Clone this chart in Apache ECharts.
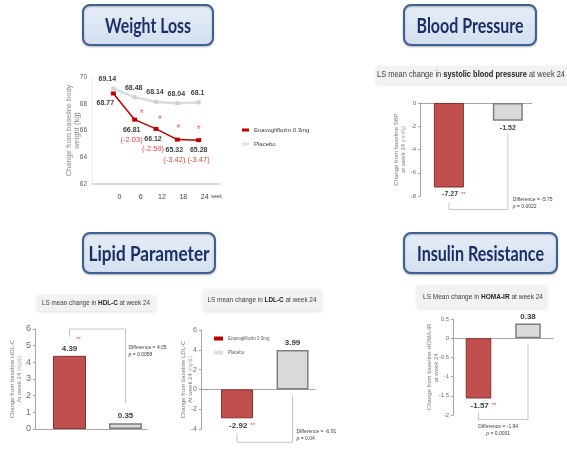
<!DOCTYPE html>
<html>
<head>
<meta charset="utf-8">
<script src="https://cdn.jsdelivr.net/npm/echarts@6/dist/echarts.min.js"></script>
<style>
  html, body { margin: 0; padding: 0; background: #ffffff; }
  #c { width: 567px; height: 473px; }
</style>
</head>
<body>
<div id="c"></div>
<script>
// ---------- data ----------
const groupNames = ['Enavogliflozin 0.3mg', 'Placebo'];

const weeks = [0, 6, 12, 18, 24];
const enavoWeight = [68.77, 66.81, 66.12, 65.32, 65.28];
const enavoWeightChange = [null, -2.03, -2.59, -3.42, -3.47];
const placeboWeight = [69.14, 68.48, 68.14, 68.04, 68.1];
const weightStars = ['', '*', '*', '*', '*'];

const sbpChange = [-7.27, -1.52];
const sbpStats = ['-5.75', '0.0022'];
const hdlChange = [4.39, 0.35];
const hdlStats = ['4.05', '0.0058'];
const ldlChange = [-2.92, 3.99];
const ldlStats = ['-6.91', '0.04'];
const homaChange = [-1.57, 0.38];
const homaStats = ['-1.94', '0.0001'];

const panelTitles = ['Weight Loss', 'Blood Pressure', 'Lipid Parameter', 'Insulin Resistance'];
const subTitles = [
  ['LS mean change in ', 'systolic blood pressure', ' at week 24'],
  ['LS mean change in ', 'HDL-C', ' at week 24'],
  ['LS mean change in ', 'LDL-C', ' at week 24'],
  ['LS Mean change in ', 'HOMA-IR', ' at week 24']
];

// ---------- styles ----------
const NARROW = '"Liberation Sans Narrow", "Liberation Sans", Arial, sans-serif';
const TITLE_FONT = 'Lato, "Open Sans", sans-serif';
const RED = '#c0504d', RED_EDGE = '#8a2f2c';
const GREY = '#d9d9d9', GREY_EDGE = '#7f7f7f';
const LINE_RED = '#c00000';
const STAR = '#ee3b3b';
const TXT = '#404040';
const BRACKET = '#c6c6c6';

const chart = echarts.init(document.getElementById('c'), null, { renderer: 'canvas', width: 567, height: 473 });

// bar panels: SBP, HDL-C, LDL-C, HOMA-IR
const barPanels = [
  { values: sbpChange, grid: { left: 420, top: 103, width: 112, height: 93 },
    xr: [-0.49, 1.41], yr: [-8, 0, 2], barWidth: 30, axisFont: 6, labelFont: 7,
    yName: ['Change from baseline SBP', 'at week 24', '(mmHg)'], nameGap: 13 },
  { values: hdlChange, grid: { left: 35, top: 329, width: 112, height: 100 },
    xr: [-0.616, 1.384], yr: [0, 6, 1], barWidth: 33, axisFont: 9, labelFont: 8,
    yName: ['Change from baseline HDL-C', 'At week 24', '(mg/dL)'], nameGap: 12 },
  { values: ldlChange, grid: { left: 201, top: 330, width: 114, height: 99 },
    xr: [-0.65, 1.405], yr: [-4, 6, 2], barWidth: 32, axisFont: 7, labelFont: 8,
    yName: ['Change from baseline LDL-C', 'At week 24', '(mg/dL)'], nameGap: 7 },
  { values: homaChange, grid: { left: 453, top: 319, width: 100, height: 96 },
    xr: [-0.515, 1.505], yr: [-2, 0.5, 0.5], barWidth: 25.5, axisFont: 6, labelFont: 8,
    yName: ['Change from baseline HOMA-IR', 'at week 24', ''], nameGap: 13 }
];

const grids = [{ left: 92, top: 77, width: 128, height: 107 }];
const xAxes = [{
  gridIndex: 0, type: 'value', min: -6, max: 30, interval: 6,
  axisLine: { show: true, onZero: false, lineStyle: { color: '#dadada', width: 2 } },
  axisTick: { show: false }, splitLine: { show: false },
  axisLabel: {
    fontSize: 7, color: TXT, fontFamily: NARROW, margin: 10, padding: [0, 0, 0, 12],
    showMinLabel: true, showMaxLabel: true,
    formatter: v => v === 30 ? '{w|week}' : (v < 0 ? '' : String(v)),
    rich: { w: { fontSize: 4.5, color: TXT, fontFamily: NARROW, padding: [0, 19, 0, 0] } }
  }
}];
const yAxes = [{
  gridIndex: 0, type: 'value', min: 62, max: 70, interval: 2,
  axisLine: { show: true, onZero: false, lineStyle: { color: '#eeeeee', width: 1 } },
  axisTick: { show: false }, splitLine: { show: false },
  axisLabel: { fontSize: 6.5, color: '#595959', fontFamily: NARROW, margin: 5 },
  name: 'Change from baseline body\nweight (kg)', nameLocation: 'middle', nameGap: 11.5,
  nameMoveOverlap: false,
  nameTextStyle: { fontSize: 7.5, color: '#8c8c8c', fontFamily: NARROW, lineHeight: 8 }
}];

const series = [
  {
    type: 'line', name: groupNames[1], xAxisIndex: 0, yAxisIndex: 0,
    data: weeks.map((w, i) => ({ value: [w, placeboWeight[i]], label: { offset: [i === 0 ? -6 : -1, 0] } })),
    lineStyle: { color: '#dcdcdc', width: 2.5 }, itemStyle: { color: '#d0d0d0' },
    symbol: 'rect', symbolSize: 4, z: 2,
    label: { show: true, position: 'top', distance: 4, fontSize: 7, fontWeight: 'bold', color: TXT,
             fontFamily: NARROW, formatter: p => String(p.value[1]) }
  },
  {
    type: 'line', name: groupNames[0], xAxisIndex: 0, yAxisIndex: 0,
    data: weeks.map((w, i) => ({ value: [w, enavoWeight[i]], label: { offset: [i === 0 ? -8 : (i === 4 ? 0 : -3), 0] } })),
    lineStyle: { color: LINE_RED, width: 1.5 }, itemStyle: { color: LINE_RED },
    symbol: 'rect', symbolSize: [5, 4], z: 3,
    label: {
      show: true, position: 'bottom', distance: 3,
      formatter: p => {
        const i = p.dataIndex;
        const v = '{v|' + enavoWeight[i].toFixed(2) + '}';
        return enavoWeightChange[i] === null ? v : v + '\n{d|(' + enavoWeightChange[i].toFixed(2) + ')}';
      },
      rich: {
        v: { fontSize: 7, fontWeight: 'bold', color: TXT, fontFamily: NARROW, lineHeight: 10 },
        d: { fontSize: 7.5, color: STAR, fontFamily: NARROW, lineHeight: 10 }
      }
    }
  },
  {
    type: 'scatter', xAxisIndex: 0, yAxisIndex: 0, silent: true, symbolSize: 1,
    itemStyle: { color: 'rgba(0,0,0,0)' },
    data: weeks.map((w, i) => ({ value: [w, enavoWeight[i]],
      label: { offset: [[0, 7, 4, 1, 0][i], [0, -5, -9, -10, -10][i]] } })),
    label: { show: true, position: 'inside', fontSize: 10, color: STAR, fontFamily: NARROW,
             formatter: p => weightStars[p.dataIndex] }
  }
];

barPanels.forEach((bp, k) => {
  const gi = k + 1;
  grids.push(bp.grid);
  xAxes.push({
    gridIndex: gi, type: 'value', min: bp.xr[0], max: bp.xr[1],
    axisLine: { show: true, onZero: true, lineStyle: { color: '#a6a6a6', width: 1 } },
    axisTick: { show: false }, axisLabel: { show: false }, splitLine: { show: false }
  });
  yAxes.push({
    gridIndex: gi, type: 'value', min: bp.yr[0], max: bp.yr[1], interval: bp.yr[2],
    axisLine: { show: true, onZero: false, lineStyle: { color: '#a6a6a6', width: 1 } },
    axisTick: { show: true, length: 2, lineStyle: { color: '#a6a6a6' } },
    splitLine: { show: false },
    axisLabel: { fontSize: bp.axisFont, color: '#6f6f6f', fontFamily: NARROW, margin: 4 },
    name: '{a|' + bp.yName[0] + '}\n{a|' + bp.yName[1] + ' }{u|' + bp.yName[2] + '}',
    nameLocation: 'middle', nameGap: bp.nameGap, nameMoveOverlap: false,
    nameTextStyle: {
      rich: {
        a: { fontSize: 6, color: '#7a7a7a', fontFamily: NARROW, lineHeight: 7 },
        u: { fontSize: 4.5, color: '#b0b0b0', fontFamily: NARROW, lineHeight: 7 }
      }
    }
  });
  series.push({
    type: 'bar', xAxisIndex: gi, yAxisIndex: gi, barWidth: bp.barWidth,
    data: bp.values.map((v, i) => {
      const neg = v < 0;
      let fmt = '{v|' + v.toFixed(2) + '}', offset = [0, 0];
      if (i === 0) {
        if (neg) { fmt = '{v|' + v.toFixed(2) + '}{s|**}'; offset = [5, 0]; }
        else { fmt = '{t|**}\n{v|' + v.toFixed(2) + '}'; }
      }
      return {
        value: [i, v],
        itemStyle: i === 0
          ? { color: RED, borderColor: RED_EDGE, borderWidth: 1 }
          : { color: GREY, borderColor: GREY_EDGE, borderWidth: 1.5 },
        label: { show: true, position: neg ? 'bottom' : 'top', distance: 2, offset: offset, formatter: fmt }
      };
    }),
    label: {
      rich: {
        v: { fontSize: bp.labelFont, fontWeight: 'bold', color: TXT, fontFamily: NARROW, lineHeight: 10 },
        s: { fontSize: 6, color: STAR, fontFamily: NARROW, lineHeight: 10, padding: [0, 0, 0, 3] },
        t: { fontSize: 6, color: STAR, fontFamily: NARROW, lineHeight: 8, padding: [0, 0, 0, 18] }
      }
    }
  });
});

chart.setOption({
  backgroundColor: '#ffffff',
  animation: false,
  grid: grids,
  xAxis: xAxes,
  yAxis: yAxes,
  legend: [
    {
      left: 237, top: 122, orient: 'vertical', itemWidth: 7, itemHeight: 3, itemGap: 8,
      textStyle: { fontSize: 6, color: TXT, fontFamily: NARROW },
      selectedMode: false,
      data: [
        { name: groupNames[0], icon: 'rect', itemStyle: { color: LINE_RED } },
        { name: groupNames[1], icon: 'rect', itemStyle: { color: '#e0e0e0' } }
      ]
    },
    {
      left: 209, top: 331, orient: 'vertical', itemWidth: 9, itemHeight: 4, itemGap: 9,
      textStyle: { fontSize: 4.5, color: '#595959', fontFamily: NARROW },
      selectedMode: false,
      data: [
        { name: groupNames[0], icon: 'rect', itemStyle: { color: LINE_RED } },
        { name: groupNames[1], icon: 'rect', itemStyle: { color: '#e0e0e0' } }
      ]
    }
  ],
  series: series
});

// ---------- decorations: title boxes, subtitle boxes, brackets ----------
const measureCtx = document.createElement('canvas').getContext('2d');
function textWidth(str, font) { measureCtx.font = font; return measureCtx.measureText(str).width; }

function titleBox(x, y, w, h, text, targetW) {
  const font = 'bold 21px ' + TITLE_FONT;
  const sx = targetW / textWidth(text, font);
  return {
    type: 'group', children: [
      { type: 'rect', shape: { x: x, y: y, width: w, height: h, r: 7 },
        style: { fill: new echarts.graphic.LinearGradient(0, 0, 0, 1, [
          { offset: 0, color: '#e6edf7' }, { offset: 1, color: '#d3dfef' }]),
          stroke: '#3d6193', lineWidth: 2, shadowBlur: 2, shadowColor: 'rgba(0,0,0,0.25)', shadowOffsetY: 1 } },
      { type: 'text', x: x + w / 2, y: y + h / 2 + 1, scaleX: sx,
        style: { text: text, font: font, fill: '#1c2f66', align: 'center', verticalAlign: 'middle' } }
    ]
  };
}

function subBox(x, y, w, h, parts, size, targetW, cx) {
  const f1 = size + 'px ' + NARROW, f2 = 'bold ' + size + 'px ' + NARROW;
  const natural = textWidth(parts[0], f1) + textWidth(parts[1], f2) + textWidth(parts[2], f1);
  const sx = targetW / natural;
  return {
    type: 'group', children: [
      { type: 'rect', shape: { x: x, y: y, width: w, height: h, r: 3 },
        style: { fill: '#f2f2f2', shadowBlur: 3, shadowColor: 'rgba(0,0,0,0.12)', shadowOffsetY: 1 } },
      { type: 'text', x: cx, y: y + h / 2, scaleX: sx,
        style: {
          text: '{n|' + parts[0] + '}{b|' + parts[1] + '}{n|' + parts[2] + '}',
          align: 'center', verticalAlign: 'middle',
          rich: {
            n: { fontSize: size, fontFamily: NARROW, fill: '#404040' },
            b: { fontSize: size, fontFamily: NARROW, fontWeight: 'bold', fill: '#262626' }
          }
        } }
    ]
  };
}

function statText(x, y, stats, align) {
  return {
    type: 'text', x: x, y: y,
    style: {
      text: '{n|Difference = ' + stats[0] + '}\n{i|p}{n| = ' + stats[1] + '}',
      align: align, verticalAlign: 'top',
      rich: {
        n: { fontSize: 5, fontFamily: NARROW, fill: '#404040', lineHeight: 7 },
        i: { fontSize: 5, fontFamily: NARROW, fontStyle: 'italic', fill: '#404040', lineHeight: 7 }
      }
    }
  };
}

function poly(points) {
  return { type: 'polyline', shape: { points: points }, style: { stroke: BRACKET, lineWidth: 1, fill: null } };
}

const px = (gi, x, y) => chart.convertToPixel({ gridIndex: gi }, [x, y]);
const graphics = [
  titleBox(83, 5, 130, 40, panelTitles[0], 86),
  titleBox(404, 5, 132, 40, panelTitles[1], 107),
  titleBox(83, 233, 132, 40, panelTitles[2], 121),
  titleBox(404, 233, 153, 40, panelTitles[3], 127),
  subBox(376, 66, 200, 18, subTitles[0], 9, 188, 471),
  subBox(37, 295, 119, 16, subTitles[1], 8, 108, 96),
  subBox(203, 289, 119, 22, subTitles[2], 8, 109, 262),
  subBox(417, 285, 130, 23, subTitles[3], 8, 120, 483)
];

// SBP: bracket below the bars
{
  const r = px(1, 0, sbpChange[0]), g = px(1, 1, sbpChange[1]);
  graphics.push(poly([[r[0], r[1] + 15], [r[0], r[1] + 22], [g[0], r[1] + 22], [g[0], g[1] + 12]]));
  graphics.push(statText(g[0] + 5, r[1] + 9, sbpStats, 'left'));
}
// HDL-C: bracket above the bars
{
  const r = px(2, 0, hdlChange[0]), g = px(2, 1, hdlChange[1]), top = px(2, 0, 6);
  graphics.push(poly([[r[0], r[1] - 19], [r[0], top[1]], [g[0], top[1]], [g[0], g[1] - 20]]));
  graphics.push(statText(g[0] + 3, r[1] - 12, hdlStats, 'left'));
}
// LDL-C
{
  const r = px(3, 0, ldlChange[0]), g = px(3, 1, ldlChange[1]), z = px(3, 1, 0);
  graphics.push(poly([[r[0], r[1] + 15], [r[0], r[1] + 24], [g[0], r[1] + 24], [g[0], z[1] + 6]]));
  graphics.push(statText(g[0] + 4, r[1] + 10, ldlStats, 'left'));
}
// HOMA-IR
{
  const r = px(4, 0, homaChange[0]), g = px(4, 1, homaChange[1]), z = px(4, 1, 0);
  graphics.push(poly([[r[0], r[1] + 14], [r[0], r[1] + 21], [g[0], r[1] + 21], [g[0], z[1] + 5]]));
  graphics.push(statText((r[0] + g[0]) / 2 - 5, r[1] + 25, homaStats, 'center'));
}

chart.setOption({ graphic: graphics });
</script>
</body>
</html>
